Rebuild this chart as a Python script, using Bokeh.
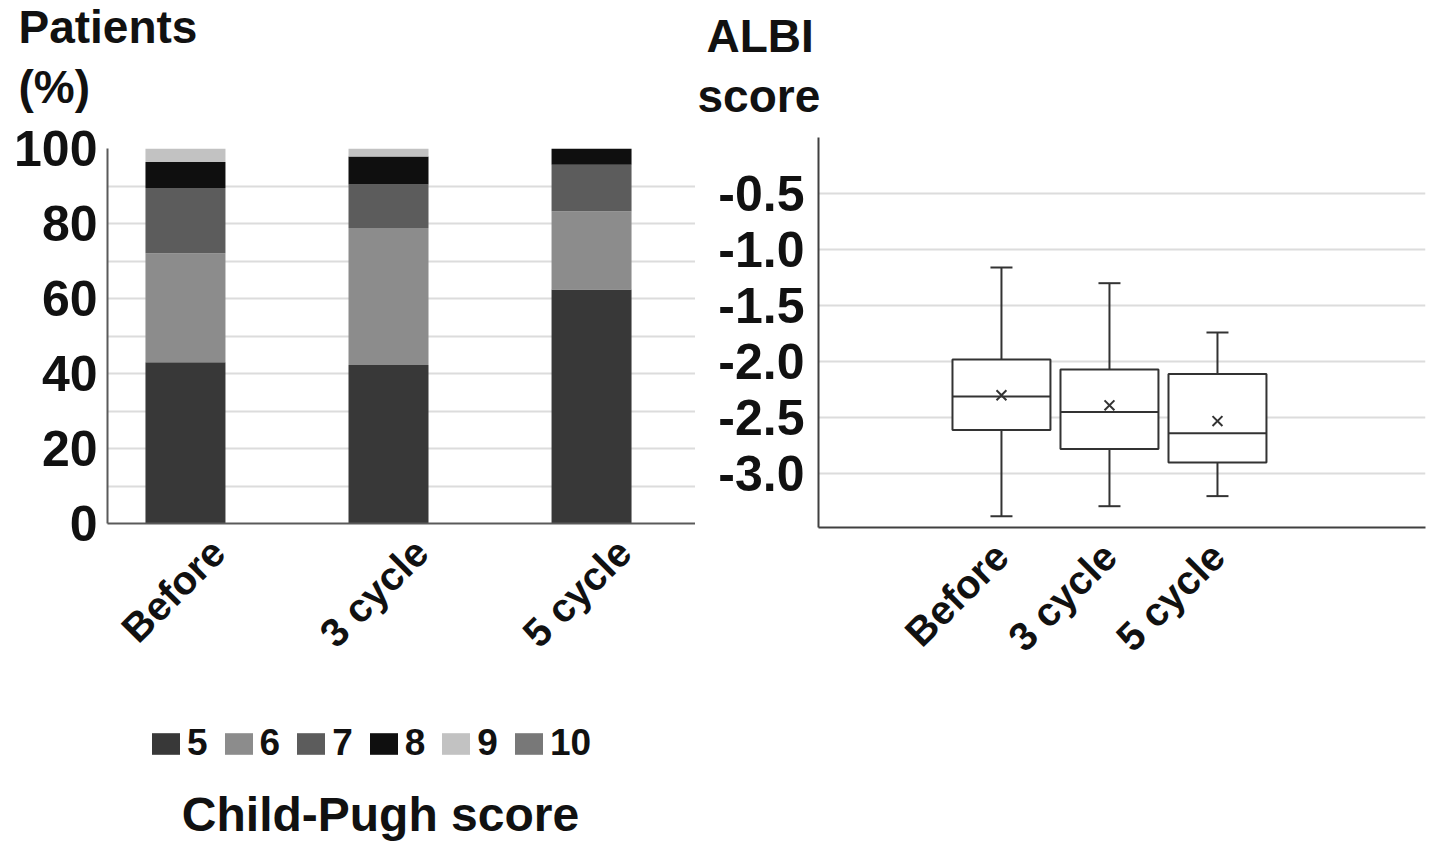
import math
from bokeh.plotting import figure
from bokeh.models import (ColumnDataSource, FixedTicker, Legend, LegendItem, Label, Title,
                          Range1d, PrintfTickFormatter)
from bokeh.layouts import row, column
from bokeh.embed import file_html
from bokeh.resources import INLINE

# ---------------- data ----------------
groups = ["Before", "3 cycle", "5 cycle"]
cp_scores = ["5", "6", "7", "8", "9", "10"]
cp5 = [43.0, 42.3, 62.4]
cp6 = [29.1, 36.5, 20.9]
cp7 = [17.4, 11.6, 12.4]
cp8 = [6.9, 7.5, 4.3]
cp9 = [3.6, 2.1, 0.0]
cp10 = [0.0, 0.0, 0.0]
left_ticks = [0, 20, 40, 60, 80, 100]

albi_max = [-1.16, -1.30, -1.74]
albi_q3 = [-1.98, -2.07, -2.11]
albi_median = [-2.31, -2.45, -2.64]
albi_mean = [-2.30, -2.39, -2.53]
albi_q1 = [-2.61, -2.78, -2.90]
albi_min = [-3.38, -3.29, -3.20]
right_ticks = [-3.0, -2.5, -2.0, -1.5, -1.0, -0.5]

# ---------------- styles ----------------
FONT = "Liberation Sans"
TXT = "#111111"
cp_colors = ["#383838", "#8c8c8c", "#5c5c5c", "#0f0f0f", "#c2c2c2", "#787878"]
GRID = "#dcdcdc"
HEAD = "46px"
LW = 695   # left column width

idx = list(range(len(groups)))
src = ColumnDataSource(dict(x=idx, **{"5": cp5, "6": cp6, "7": cp7, "8": cp8, "9": cp9, "10": cp10}))


def text_fig(width, height, x_range=None, y_range=None):
    f = figure(width=width, height=height,
               x_range=x_range or Range1d(10, 11), y_range=y_range or Range1d(0, 1),
               x_axis_location=None, y_axis_location=None, output_backend="svg",
               toolbar_location=None, min_border=0)
    f.outline_line_color = None
    f.xgrid.visible = False
    f.ygrid.visible = False
    return f


def head(text, offset, valign, standoff):
    return Title(text=text, align="left", offset=offset, vertical_align=valign, standoff=standoff,
                 text_font=FONT, text_font_size=HEAD, text_font_style="bold", text_color=TXT)


def style_axes(p, color):
    for ax in (p.xaxis[0], p.yaxis[0]):
        ax.axis_line_color = color
        ax.axis_line_width = 2
        ax.major_tick_line_color = None
        ax.minor_tick_line_color = None
        ax.major_tick_out = 0
        ax.major_tick_in = 0
        ax.major_label_text_font = FONT
        ax.major_label_text_font_style = "bold"
        ax.major_label_text_color = TXT


# ---------------- left: heading ----------------
t1 = text_fig(LW, 118)
t1.add_layout(head("(%)", -89, "bottom", 8), "above")
t1.add_layout(head("Patients", -89, "top", 0), "above")

# ---------------- left: stacked bars ----------------
p1 = figure(width=LW, height=572, x_range=Range1d(-0.384, 2.512), y_range=Range1d(0, 100),
            output_backend="svg", toolbar_location=None,
            min_border_left=107, min_border_right=0, min_border_top=30, min_border_bottom=167)
p1.outline_line_color = None
p1.vbar_stack(cp_scores, x="x", width=0.394, color=cp_colors, line_color=None, source=src)

p1.xgrid.grid_line_color = None
p1.ygrid.ticker = FixedTicker(ticks=list(range(0, 101, 10)))
p1.ygrid.grid_line_color = GRID
p1.ygrid.grid_line_width = 2

p1.yaxis.ticker = FixedTicker(ticks=left_ticks)
p1.xaxis.ticker = FixedTicker(ticks=[i + 0.16 for i in idx])
p1.xaxis.major_label_overrides = {i + 0.16: g for i, g in zip(idx, groups)}
p1.xaxis.major_label_orientation = math.pi / 4
style_axes(p1, "#5a5a5a")
p1.yaxis.major_label_text_font_size = "50px"
p1.yaxis.major_label_standoff = 10
p1.xaxis.major_label_text_font_size = "40px"
p1.xaxis.major_label_standoff = 22

# ---------------- left: legend + caption ----------------
# the legend swatches come from zero-width copies of the stacked bars, kept off-range
p3 = text_fig(LW, 160, x_range=Range1d(-1000, -999), y_range=Range1d(1000, 1001))
swatches = p3.vbar_stack(cp_scores, x="x", width=0, color=cp_colors, line_color=None, source=src)
legend = Legend(items=[LegendItem(label=s, renderers=[r]) for s, r in zip(cp_scores, swatches)],
                orientation="horizontal", location=(41, 86),
                glyph_width=35, glyph_height=27, label_height=27, label_standoff=4, spacing=13,
                label_text_font=FONT, label_text_font_size="37px", label_text_font_style="bold",
                label_text_color=TXT, padding=0, margin=0,
                border_line_color=None, background_fill_alpha=0)
p3.add_layout(legend)
p3.add_layout(Label(x=273, y=36, x_units="screen", y_units="screen", text="Child-Pugh score",
                    text_font=FONT, text_font_size="48px", text_font_style="bold",
                    text_color=TXT, text_baseline="alphabetic", text_align="center"))

# ---------------- right: heading ----------------
RW = 738
t2 = text_fig(RW, 132)
t2.add_layout(head("score", -121, "top", 0), "above")
t2.add_layout(head("ALBI", -112, "bottom", 15), "above")

# ---------------- right: box plot ----------------
p2 = figure(width=RW, height=718, x_range=Range1d(-1.694, 3.926), y_range=Range1d(-3.48, 0),
            output_backend="svg", toolbar_location=None,
            min_border_left=123, min_border_right=8, min_border_top=5, min_border_bottom=323)
p2.outline_line_color = None

BOX_W = 0.907
CAP_PX = 22
bsrc = ColumnDataSource(dict(
    x=idx, q1=albi_q1, q3=albi_q3, med=albi_median, mean=albi_mean, lo=albi_min, hi=albi_max,
    left=[i - BOX_W / 2 for i in idx], right=[i + BOX_W / 2 for i in idx]))

LC = "#333333"
p2.segment(x0="x", y0="q3", x1="x", y1="hi", line_color=LC, line_width=2, source=bsrc)
p2.segment(x0="x", y0="q1", x1="x", y1="lo", line_color=LC, line_width=2, source=bsrc)
p2.scatter(x="x", y="hi", marker="dash", size=CAP_PX, line_color=LC, line_width=2, source=bsrc)
p2.scatter(x="x", y="lo", marker="dash", size=CAP_PX, line_color=LC, line_width=2, source=bsrc)
p2.vbar(x="x", top="q3", bottom="q1", width=BOX_W, fill_color="white", line_color=LC,
        line_width=2, source=bsrc)
p2.segment(x0="left", y0="med", x1="right", y1="med", line_color=LC, line_width=2, source=bsrc)
p2.scatter(x="x", y="mean", marker="x", size=14, line_color=LC, line_width=2, source=bsrc)

p2.xgrid.grid_line_color = None
p2.ygrid.ticker = FixedTicker(ticks=right_ticks + [0.0])
p2.ygrid.grid_line_color = GRID
p2.ygrid.grid_line_width = 2

p2.yaxis.ticker = FixedTicker(ticks=right_ticks)
p2.yaxis.formatter = PrintfTickFormatter(format="%.1f")
p2.xaxis.ticker = FixedTicker(ticks=idx)
p2.xaxis.major_label_overrides = {i: g for i, g in zip(idx, groups)}
p2.xaxis.major_label_orientation = math.pi / 4
style_axes(p2, "#404040")
p2.yaxis.major_label_text_font_size = "50px"
p2.yaxis.major_label_standoff = 14
p2.xaxis.major_label_text_font_size = "40px"
p2.xaxis.major_label_standoff = 22

layout = row(column(t1, p1, p3), column(t2, p2))
open("out.html", "w").write(file_html(layout, INLINE))
